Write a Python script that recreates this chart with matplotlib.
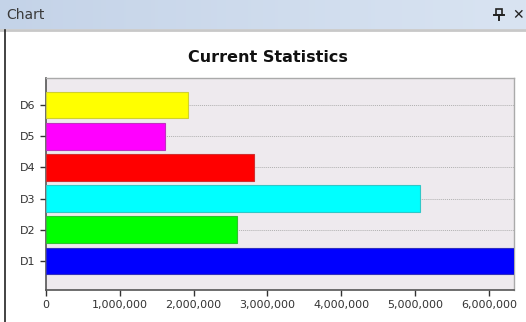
import numpy as np
import matplotlib
matplotlib.use('Agg')
import matplotlib.pyplot as plt
from matplotlib.ticker import FuncFormatter, MultipleLocator
from matplotlib.patches import Rectangle
from matplotlib.lines import Line2D

categories = ['D1', 'D2', 'D3', 'D4', 'D5', 'D6']
values = [6340000, 2590000, 5070000, 2820000, 1610000, 1920000]
bar_colors = ['#0000FF', '#00FF00', '#00FFFF', '#FF0000', '#FF00FF', '#FFFF00']
edge_colors = ['#3030C0', '#30C030', '#30C8C8', '#D03030', '#C030C0', '#D0D030']
title = 'Current Statistics'
window_title = 'Chart'

W, H = 526, 322
fig = plt.figure(figsize=(W / 100, H / 100), dpi=100)
fig.patch.set_facecolor('white')

# window title bar with gradient
bar_ax = fig.add_axes([0, 1 - 29 / H, 1, 29 / H])
grad = np.linspace(0, 1, 256).reshape(1, -1)
cmap = matplotlib.colors.LinearSegmentedColormap.from_list('tb', ['#C4D3E8', '#D9E4F2'])
bar_ax.imshow(grad, aspect='auto', cmap=cmap, extent=[0, 1, 0, 1])
bar_ax.set_axis_off()
fig.text(6 / W, 1 - 15 / H, window_title, fontsize=10, color='#3A3A3A', va='center', ha='left')
fig.text(518 / W, 1 - 15 / H, '✕', fontsize=10, fontweight='bold', color='#222222', va='center', ha='center')
# pin icon
px, py = 499, 14
fig.add_artist(Rectangle(((px - 3) / W, 1 - (py + 1) / H), 6 / W, 6 / H,
                         transform=fig.transFigure, fill=False, lw=1.2, ec='#222222'))
fig.add_artist(Line2D([(px - 5) / W, (px + 5) / W], [1 - (py + 1) / H] * 2,
                      transform=fig.transFigure, lw=1.4, color='#222222'))
fig.add_artist(Line2D([px / W, px / W], [1 - (py + 1) / H, 1 - (py + 6) / H],
                      transform=fig.transFigure, lw=1.4, color='#222222'))
# separator under title bar and window left border
fig.add_artist(Line2D([0, 1], [1 - 30 / H] * 2, transform=fig.transFigure, lw=2, color='#C8C8C8'))
fig.add_artist(Line2D([4.5 / W, 4.5 / W], [0, 1 - 30 / H], transform=fig.transFigure, lw=1.2, color='#222222'))

fig.text(268 / W, 1 - 58 / H, title, fontsize=11.5, fontweight='bold', ha='center', va='center', color='#111111')

ax = fig.add_axes([46 / W, 32 / H, 468 / W, 212.5 / H])
ax.set_facecolor('#EEEAEE')
y = np.arange(len(categories))
ax.barh(y, values, height=0.86, color=bar_colors, edgecolor=edge_colors, linewidth=0.8, zorder=3)
ax.set_xlim(0, 6340000)
ax.set_ylim(-0.93, len(categories) - 0.12)
ax.set_yticks(y)
ax.set_yticklabels(categories)
ax.xaxis.set_major_locator(MultipleLocator(1000000))
ax.xaxis.set_major_formatter(FuncFormatter(lambda v, p: f'{int(v):,}'))
ax.tick_params(axis='both', labelsize=8, colors='#333333', length=4, width=1, direction='out')
ax.grid(axis='y', linestyle=(0, (1, 1)), color='#B0B0B0', linewidth=0.7, zorder=1)
for s in ['left', 'bottom']:
    ax.spines[s].set_color('#555555')
    ax.spines[s].set_linewidth(1.2)
for s in ['top', 'right']:
    ax.spines[s].set_color('#AAAAAA')
    ax.spines[s].set_linewidth(1.0)

fig.savefig('out.png', dpi=100)
